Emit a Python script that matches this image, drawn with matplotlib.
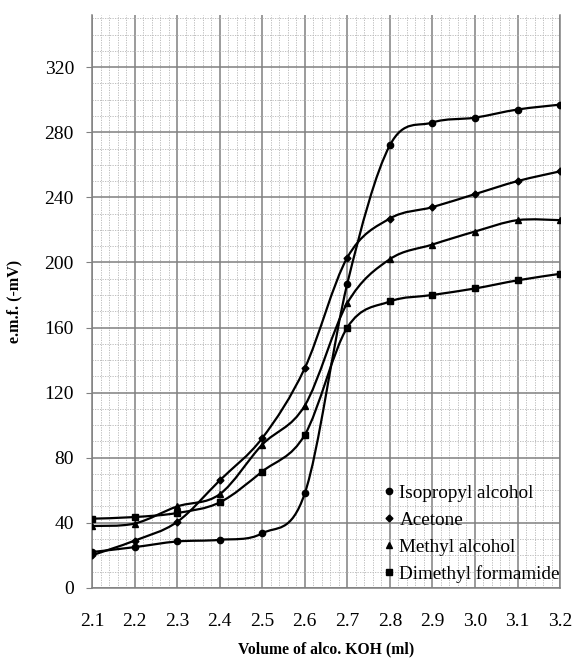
import numpy as np
import matplotlib.pyplot as plt
from matplotlib.path import Path
from matplotlib.patches import PathPatch
from matplotlib.ticker import MultipleLocator

plt.rcParams['font.family'] = ['Liberation Serif', 'DejaVu Serif']

# titration readings, e.m.f. in -mV
volume = [2.1, 2.2, 2.3, 2.4, 2.5, 2.6, 2.7, 2.8, 2.9, 3.0, 3.1, 3.2]
isopropyl = [22, 25, 28.5, 29.5, 33.5, 58, 187, 272, 286, 289, 294, 297]
acetone = [20, 29, 40.5, 66, 92, 135, 203, 227, 234, 242, 250, 256]
methyl = [38, 39.5, 50, 57.5, 88, 112, 175, 202, 211, 219, 226, 226]
dmf = [42.5, 43.5, 46, 52.5, 71.5, 94, 160, 176, 180, 184, 189, 193]

series = [
    ('Isopropyl alcohol', isopropyl, 'o', 4.5),
    ('Acetone', acetone, 'D', 3.5),
    ('Methyl alcohol', methyl, '^', 5),
    ('Dimethyl formamide', dmf, 's', 4.5),
]


def smooth_path(x, y):
    # cubic bezier through the points, like a spreadsheet "smoothed line"
    pts = np.column_stack([x, y]).astype(float)
    n = len(pts)
    verts = [pts[0]]
    codes = [Path.MOVETO]
    for i in range(n - 1):
        p0 = pts[max(i - 1, 0)]
        p1 = pts[i]
        p2 = pts[i + 1]
        p3 = pts[min(i + 2, n - 1)]
        verts += [p1 + (p2 - p0) / 6, p2 - (p3 - p1) / 6, p2]
        codes += [Path.CURVE4] * 3
    return Path(verts, codes)


fig = plt.figure(figsize=(5.75, 6.59), dpi=100)
ax = fig.add_axes([0.16, 0.108, 0.814, 0.869])

for label, vals, mk, ms in series:
    ax.add_patch(PathPatch(smooth_path(volume, vals), facecolor='none',
                           edgecolor='black', lw=1.6, zorder=3))
    ax.plot(volume, vals, linestyle='none', marker=mk, ms=ms, color='black',
            label=label, zorder=4)

ax.set_xlim(2.1, 3.2)
ax.set_ylim(0, 352)
ax.xaxis.set_minor_locator(MultipleLocator(0.02))
ax.yaxis.set_major_locator(MultipleLocator(40))
ax.yaxis.set_minor_locator(MultipleLocator(10))
ax.set_xticks(volume)
ax.set_xticklabels([f'{v:.1f}' for v in volume])

ax.grid(which='major', color='#808080', lw=1.1, zorder=1)
ax.grid(which='minor', color='#b5b5b5', lw=0.6, linestyle=(0, (1.5, 1.5)), zorder=0)
ax.set_axisbelow(True)

ax.tick_params(axis='x', which='both', length=0, pad=18, labelsize=14)
ax.tick_params(axis='y', which='major', length=4, pad=9, labelsize=14,
               color='#808080')
ax.tick_params(axis='y', which='minor', length=0)

ax.spines['top'].set_visible(False)
for s in ('left', 'bottom', 'right'):
    ax.spines[s].set_color('#808080')
    ax.spines[s].set_linewidth(1.1)

ax.set_xlabel('Volume of alco. KOH (ml)', fontsize=11.3, fontweight='bold',
              labelpad=8)
ax.set_ylabel('e.m.f. (-mV)', fontsize=11.5, fontweight='bold', labelpad=16)

ax.legend(loc='upper left', bbox_to_anchor=(0.624, 0.181), frameon=False,
          handlelength=0.5, handletextpad=0.3, labelspacing=0.5,
          borderpad=0, borderaxespad=0, numpoints=1, fontsize=13.8)

fig.savefig('out.png', dpi=100)
